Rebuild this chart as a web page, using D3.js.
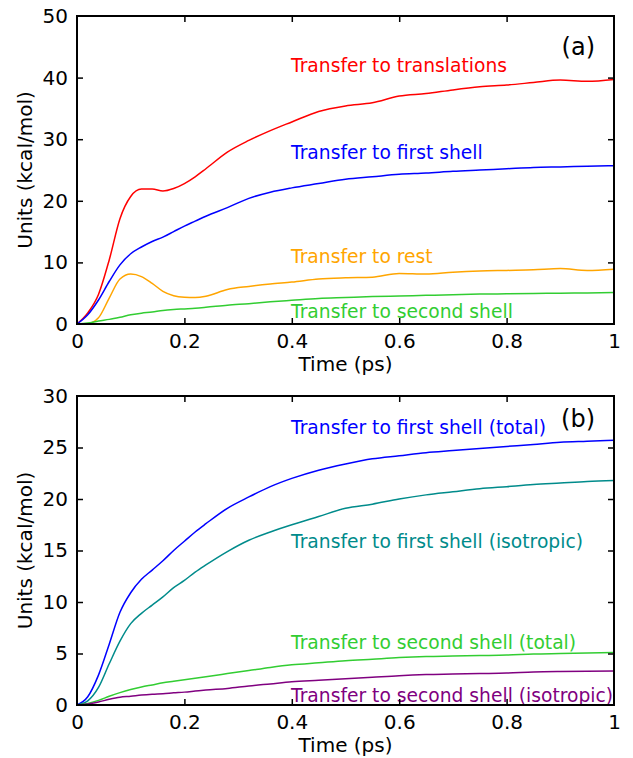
<!DOCTYPE html>
<html><head><meta charset="utf-8">
<script src="https://cdn.jsdelivr.net/npm/d3@7"></script>
<style>body{margin:0;background:#fff}svg{display:block}text{font-family:"DejaVu Sans",sans-serif}</style>
</head><body>
<svg id="c" width="633" height="758"></svg>
<script>
const time = [0,0.02,0.04,0.06,0.08,0.10,0.12,0.14,0.16,0.18,0.20,0.22,0.24,0.28,0.32,0.36,0.40,0.45,0.50,0.55,0.60,0.65,0.70,0.75,0.80,0.85,0.90,0.95,1.0];
// Panel (a)
const transTranslations = [0,1.8,4.8,10.4,17.1,20.7,21.9,21.9,21.6,22.0,22.8,23.9,25.2,27.9,29.8,31.4,32.8,34.5,35.4,35.9,37.0,37.4,38.0,38.5,38.8,39.2,39.6,39.4,39.7];
const transFirstShell = [0,1.5,3.9,6.9,9.6,11.4,12.5,13.4,14.1,15.0,15.9,16.7,17.5,18.9,20.4,21.4,22.1,22.8,23.5,23.9,24.3,24.5,24.8,25.0,25.2,25.4,25.5,25.6,25.7];
const transRest = [0,0.05,1.0,4.2,7.3,8.1,7.7,6.6,5.3,4.6,4.35,4.3,4.5,5.6,6.1,6.5,6.8,7.3,7.5,7.6,8.2,8.1,8.4,8.6,8.7,8.8,9.0,8.7,8.9];
const transSecondShell = [0,0.15,0.5,0.75,1.1,1.5,1.75,1.95,2.2,2.35,2.45,2.55,2.7,3.05,3.3,3.6,3.85,4.15,4.3,4.45,4.55,4.65,4.75,4.85,4.9,4.95,5.0,5.05,5.1];
// Panel (b)
const firstTotal = [0,0.8,2.9,5.9,9.0,10.9,12.2,13.1,14.0,15.0,15.9,16.8,17.6,19.1,20.2,21.2,22.0,22.8,23.4,23.9,24.2,24.5,24.7,24.9,25.1,25.3,25.5,25.6,25.7];
const firstIso = [0,0.4,1.7,4.0,6.2,7.9,8.9,9.7,10.5,11.4,12.1,12.9,13.6,14.9,16.0,16.8,17.5,18.3,19.1,19.5,20.0,20.4,20.7,21.0,21.2,21.4,21.55,21.7,21.8];
const secondTotal = [0,0.15,0.45,0.85,1.2,1.5,1.75,1.95,2.15,2.3,2.45,2.6,2.75,3.05,3.35,3.65,3.9,4.1,4.3,4.45,4.6,4.7,4.75,4.8,4.85,4.95,5.0,5.05,5.1];
const secondIso = [0,0.1,0.3,0.55,0.75,0.85,0.97,1.05,1.1,1.18,1.25,1.35,1.45,1.6,1.85,2.05,2.25,2.4,2.55,2.7,2.85,2.95,3.0,3.05,3.1,3.2,3.25,3.28,3.3];

const xTicks = [0,0.2,0.4,0.6,0.8,1];
const xTickLabels = ["0","0.2","0.4","0.6","0.8","1"];
const yTicksA = [0,10,20,30,40,50];
const yTicksB = [0,5,10,15,20,25,30];
const labelsA = ["Transfer to translations","Transfer to first shell","Transfer to rest","Transfer to second shell"];
const labelsB = ["Transfer to first shell (total)","Transfer to first shell (isotropic)","Transfer to second shell (total)","Transfer to second shell (isotropic)"];

const svg = d3.select("#c");
const L = 77, R = 614;

function panel(top, bottom, yMax, yTicks, series, colors, labels, labelYs, tag, tagY) {
  const x = d3.scaleLinear().domain([0,1]).range([L,R]);
  const y = d3.scaleLinear().domain([0,yMax]).range([bottom,top]);
  const g = svg.append("g");
  const line = d3.line().x((d,i)=>x(time[i])).y(d=>y(d)).curve(d3.curveMonotoneX);
  series.forEach((s,k)=>{
    g.append("path").attr("d", line(s)).attr("fill","none").attr("stroke",colors[k]).attr("stroke-width",1.5);
  });
  labels.forEach((t,k)=>{
    g.append("text").attr("x",291).attr("y",labelYs[k]).attr("fill",colors[k]).attr("font-size","18.7px").text(t);
  });
  g.append("text").attr("x",595).attr("y",tagY).attr("text-anchor","end").attr("font-size","24px").attr("fill","#000").text(tag);
  const fmt = v => xTickLabels[xTicks.indexOf(v)];
  const bx = g.append("g").attr("transform",`translate(0,${bottom})`).call(d3.axisBottom(x).tickValues(xTicks).tickFormat(fmt).tickSizeInner(-6).tickSizeOuter(0).tickPadding(10));
  const tx = g.append("g").attr("transform",`translate(0,${top})`).call(d3.axisTop(x).tickValues(xTicks.slice(1,-1)).tickFormat("").tickSizeInner(-6).tickSizeOuter(0));
  const ly = g.append("g").attr("transform",`translate(${L},0)`).call(d3.axisLeft(y).tickValues(yTicks).tickFormat(d3.format("d")).tickSizeInner(-6).tickSizeOuter(0).tickPadding(9));
  const ry = g.append("g").attr("transform",`translate(${R},0)`).call(d3.axisRight(y).tickValues(yTicks.slice(1,-1)).tickFormat("").tickSizeInner(-6).tickSizeOuter(0));
  [bx,tx,ly,ry].forEach(a=>{
    a.select(".domain").remove();
    a.selectAll(".tick line").attr("stroke","#000").attr("stroke-width",1.5);
    a.selectAll("text").attr("font-size","20px").attr("fill","#000").attr("font-family","DejaVu Sans, sans-serif");
  });
  bx.selectAll(".tick").filter(d=>d===0||d===1).select("line").remove();
  ly.selectAll(".tick").filter(d=>d===0||d===yMax).select("line").remove();
  g.append("rect").attr("x",L).attr("y",top).attr("width",R-L).attr("height",bottom-top).attr("fill","none").attr("stroke","#000").attr("stroke-width",2);
  g.append("text").attr("x",(L+R)/2).attr("y",bottom+47).attr("text-anchor","middle").attr("font-size","20px").text("Time (ps)");
  g.append("text").attr("transform",`translate(32,${(top+bottom)/2}) rotate(-90)`).attr("text-anchor","middle").attr("font-size","20px").text("Units (kcal/mol)");
}

panel(16, 324, 50, yTicksA,
  [transTranslations, transFirstShell, transRest, transSecondShell],
  ["#ff0000","#0000ff","#ffa500","#32cd32"], labelsA, [72,159,263,318], "(a)", 55);
panel(396, 705, 30, yTicksB,
  [firstTotal, firstIso, secondTotal, secondIso],
  ["#0000ff","#008b8b","#32cd32","#800080"], labelsB, [434,548,649,702], "(b)", 427);
</script>
</body></html>
